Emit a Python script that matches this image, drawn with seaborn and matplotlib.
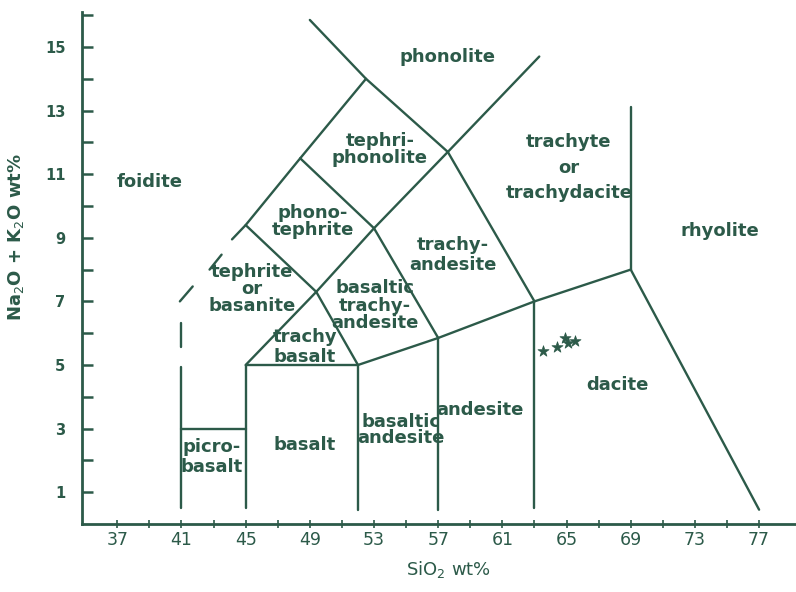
import pandas as pd
import matplotlib
matplotlib.use("Agg")
import matplotlib.pyplot as plt
import seaborn as sns

INK = "#2c5a49"

# TAS field boundaries as polylines (SiO2 wt%, Na2O+K2O wt%)
solid_lines = {
    "picro_left": [(41, 0.5), (41, 4.95)],
    "picro_top": [(41, 3), (45, 3)],
    "basalt_left": [(45, 0.5), (45, 5)],
    "basalt_top": [(45, 5), (52, 5)],
    "basalt_right": [(52, 0.45), (52, 5)],
    "andesite_left": [(57, 0.45), (57, 5.85)],
    "andesite_right": [(63, 0.5), (63, 7)],
    "subalkaline_top": [(52, 5), (57, 5.85), (63, 7), (69, 8)],
    "dacite_right": [(69, 8), (77, 0.45)],
    "rhyolite_left": [(69, 8), (69, 13.1)],
    "trachybasalt": [(45, 5), (49.4, 7.3), (52, 5)],
    "bta_right": [(53, 9.3), (57, 5.85)],
    "ta_right": [(57.6, 11.7), (63, 7)],
    "trachyte_left": [(49.4, 7.3), (53, 9.3), (57.6, 11.7), (63.3, 14.7)],
    "tephrite_top": [(45, 9.4), (49.4, 7.3)],
    "phonotephrite_top": [(48.4, 11.5), (53, 9.3)],
    "phonolite_bottom": [(52.5, 14), (57.6, 11.7)],
    "foidite_edge": [(44.15, 8.95), (45, 9.4), (48.4, 11.5), (52.5, 14), (49.0, 15.85)],
}

dashed_lines = {
    "d1": [(41, 5.57), (41, 6.33)],
    "d2": [(40.9, 7.0), (41.7, 7.47)],
    "d3": [(42.75, 8.0), (43.5, 8.47)],
}

# field names and label positions
field_names = ["phonolite", "foidite", "tephri-\nphonolite", "trachyte\nor\ntrachydacite",
               "rhyolite", "phono-\ntephrite", "trachy-\nandesite", "tephrite\nor\nbasanite",
               "basaltic\ntrachy-\nandesite", "trachy\nbasalt", "dacite", "andesite",
               "basaltic\nandesite", "basalt", "picro-\nbasalt"]
field_x = [57.6, 39.0, 53.37, 65.15, 74.55, 49.19, 57.9, 45.38, 53.05, 48.7, 68.2, 59.6, 54.7, 48.7, 42.9]
field_y = [14.68, 10.77, 11.78, 11.21, 9.2, 9.51, 8.47, 7.40, 6.87, 5.57, 4.38, 3.6, 2.96, 2.49, 2.11]
field_spacing = [1.0, 1.0, 0.92, 1.56, 1.0, 0.87, 1.15, 0.92, 0.95, 1.1, 1.0, 1.0, 0.87, 1.0, 1.15]

# sample points (stars)
sample_sio2 = [63.55, 64.4, 64.9, 65.1, 65.5]
sample_alk = [5.43, 5.58, 5.86, 5.70, 5.74]


def to_frame(lines):
    rows = []
    for name, pts in lines.items():
        for i, (x, y) in enumerate(pts):
            rows.append({"seg": name, "order": i, "sio2": x, "alk": y})
    return pd.DataFrame(rows)


sns.set_theme(style="white")
plt.rcParams["font.family"] = ["DejaVu Sans"]

fig = plt.figure(figsize=(7.96, 5.92), dpi=100)
ax = fig.add_axes([82 / 796, 68 / 592, 714 / 796, 512 / 592])

solid_df = to_frame(solid_lines)
dash_df = to_frame(dashed_lines)

sns.lineplot(data=solid_df, x="sio2", y="alk", units="seg", estimator=None,
             sort=False, color=INK, linewidth=1.7, ax=ax)
sns.lineplot(data=dash_df, x="sio2", y="alk", units="seg", estimator=None,
             sort=False, color=INK, linewidth=1.7, ax=ax)

pts = pd.DataFrame({"sio2": sample_sio2, "alk": sample_alk})
sns.scatterplot(data=pts, x="sio2", y="alk", marker="*", s=70, color=INK,
                edgecolor=INK, linewidth=0.5, ax=ax, zorder=5)

for name, x, y, sp in zip(field_names, field_x, field_y, field_spacing):
    ax.text(x, y, name, ha="center", va="center", fontsize=13, color=INK,
            linespacing=sp, fontweight="semibold")

ax.set_xlim(34.8, 79.3)
ax.set_ylim(0, 16.1)

ax.set_xticks(range(37, 78, 4))
ax.set_xticks(range(37, 78, 2), minor=True)
ax.set_yticks(range(1, 16, 2))
ax.set_yticks(range(2, 17, 2), minor=True)

for side in ["top", "right"]:
    ax.spines[side].set_visible(False)
for side in ["left", "bottom"]:
    ax.spines[side].set_color(INK)
    ax.spines[side].set_linewidth(2)

ax.tick_params(axis="x", which="both", direction="inout", length=6, width=1.2,
               colors=INK, labelsize=12.5, pad=2, bottom=True)
ax.tick_params(axis="y", which="both", direction="in", length=8, width=1.8,
               colors=INK, labelsize=10.5, pad=12, left=True)
for lab in ax.get_yticklabels():
    lab.set_fontweight("bold")

ax.set_xlabel("SiO$_2$ wt%", fontsize=13, color=INK)
ax.set_ylabel("Na$_2$O + K$_2$O wt%", fontsize=13, color=INK, fontweight="bold")
ax.xaxis.set_label_coords(0.513, -0.068)
ax.yaxis.set_label_coords(-0.078, 0.56)

fig.savefig("out.png", dpi=100, facecolor="white")
